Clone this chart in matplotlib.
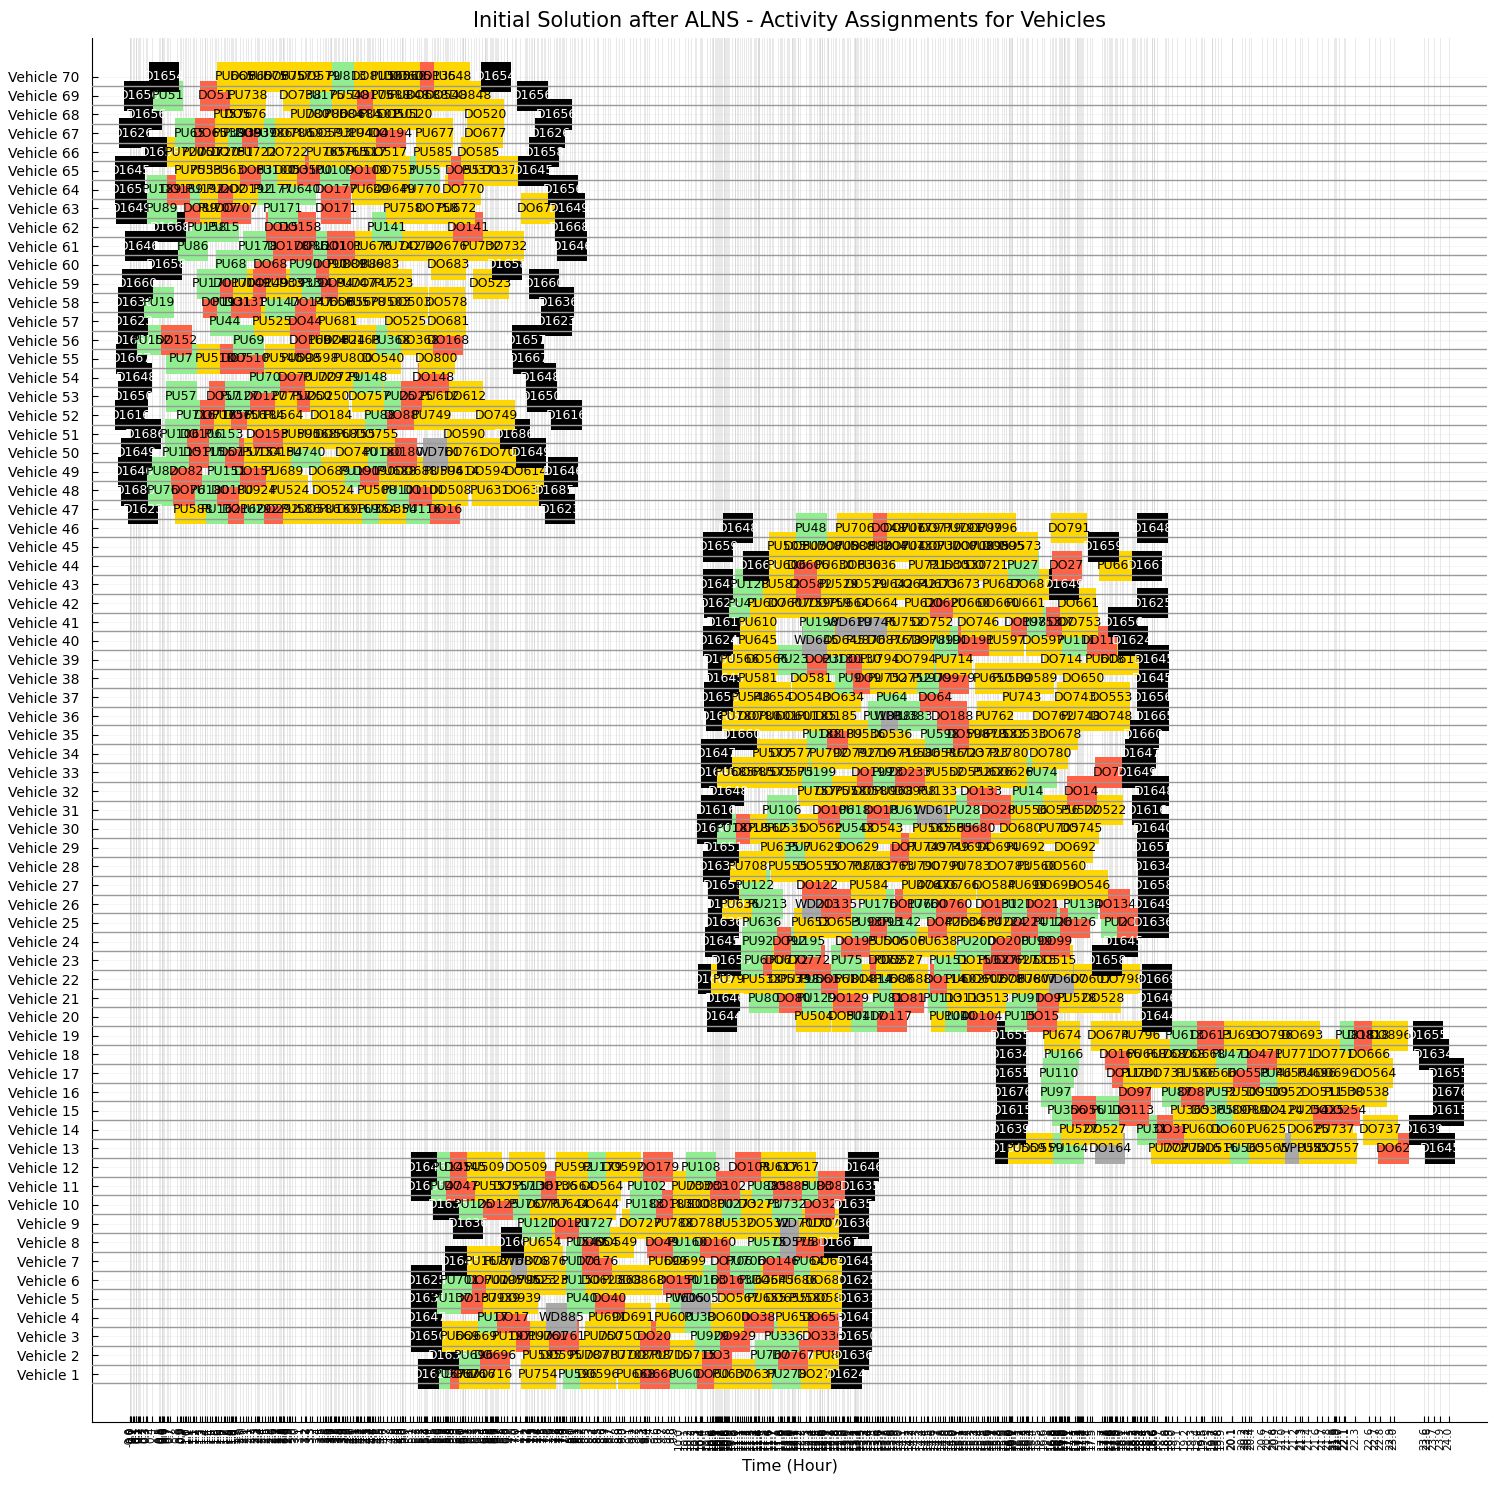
import matplotlib
matplotlib.use("Agg")
import matplotlib.pyplot as plt
from matplotlib.patches import Rectangle

# activity kind -> D depot, P pickup (green), R drop-off (red), Y gold, W waiting (gray)
# each row: (vehicle, label, time in hours, kind)
block_early = [
    (70,"D1654",0.61,"D"),(70,"PU665",1.9,"Y"),(70,"DO665",2.2,"Y"),(70,"PU675",2.5,"Y"),(70,"DO675",2.8,"Y"),
    (70,"PU579",3.1,"Y"),(70,"DO579",3.45,"Y"),(70,"PU813",3.95,"P"),(70,"DO813",4.4,"Y"),(70,"PU560",4.75,"Y"),
    (70,"DO560",5.0,"Y"),(70,"DO605",5.1,"Y"),(70,"DO135",5.55,"R"),(70,"PU648",5.85,"Y"),(70,"D1654",6.65,"D"),
    (69,"D1656",0.16,"D"),(69,"PU51",0.69,"P"),(69,"DO51",1.54,"R"),(69,"PU738",2.15,"Y"),(69,"DO738",3.1,"Y"),
    (69,"PU175",3.54,"P"),(69,"PU548",4.0,"Y"),(69,"DO175",4.4,"R"),(69,"PU688",4.75,"Y"),(69,"PU848",5.1,"Y"),
    (69,"DO688",5.4,"Y"),(69,"DO548",5.75,"Y"),(69,"DO848",6.2,"Y"),(69,"D1656",7.32,"D"),
    (68,"D1656",0.3,"D"),(68,"PU576",1.87,"Y"),(68,"DO576",2.1,"Y"),(68,"PU780",3.27,"Y"),(68,"DO780",3.57,"Y"),
    (68,"PU684",3.88,"Y"),(68,"DO684",4.18,"Y"),(68,"PU501",4.55,"Y"),(68,"DO501",4.9,"Y"),(68,"PU520",5.15,"Y"),
    (68,"DO520",6.47,"Y"),(68,"D1656",7.76,"D"),
    (67,"D1626",0.06,"D"),(67,"PU65",1.08,"P"),(67,"DO65",1.45,"R"),(67,"PU380",1.87,"Y"),(67,"PU939",2.05,"P"),
    (67,"DO939",2.3,"R"),(67,"PU786",2.6,"P"),(67,"DO786",2.95,"Y"),(67,"PU593",3.3,"Y"),(67,"DO593",3.65,"Y"),
    (67,"PU194",4.05,"Y"),(67,"PU404",4.35,"Y"),(67,"DO194",4.75,"R"),(67,"PU677",5.55,"Y"),(67,"DO677",6.46,"Y"),
    (67,"D1626",7.64,"D"),
    (66,"D1658",0.54,"D"),(66,"PU720",1.0,"Y"),(66,"PU751",1.3,"Y"),(66,"DO720",1.6,"Y"),(66,"DO751",1.85,"Y"),
    (66,"PU722",2.3,"Y"),(66,"DO722",2.85,"Y"),(66,"PU765",3.57,"Y"),(66,"DO765",3.94,"Y"),(66,"PU517",4.3,"Y"),
    (66,"DO517",4.67,"Y"),(66,"PU585",5.52,"Y"),(66,"DO585",6.34,"Y"),(66,"D1658",7.53,"D"),
    (65,"D1645",0.0,"D"),(65,"PU753",1.15,"Y"),(65,"PU535",1.45,"Y"),(65,"PU63",1.8,"Y"),(65,"DO63",2.27,"R"),
    (65,"PU100",2.66,"P"),(65,"DO535",3.0,"Y"),(65,"DO100",3.3,"R"),(65,"PU109",3.72,"P"),(65,"DO109",4.3,"R"),
    (65,"DO753",4.8,"Y"),(65,"PU55",5.36,"P"),(65,"DO55",6.05,"R"),(65,"PU371",6.4,"Y"),(65,"DO371",6.8,"Y"),
    (65,"D1645",7.34,"D"),
    (64,"D1656",0.0,"D"),(64,"PU189",0.57,"P"),(64,"DO189",0.95,"R"),(64,"PU192",1.36,"P"),(64,"PU2",1.6,"Y"),
    (64,"DO2",1.87,"R"),(64,"DO192",2.2,"Y"),(64,"PU177",2.6,"P"),(64,"PU640",3.1,"P"),(64,"DO177",3.75,"R"),
    (64,"PU649",4.36,"Y"),(64,"DO649",4.8,"Y"),(64,"PU770",5.3,"Y"),(64,"DO770",6.06,"Y"),(64,"D1656",7.88,"D"),
    (63,"D1649",0.02,"D"),(63,"PU89",0.57,"P"),(63,"DO89",1.27,"R"),(63,"PU707",1.6,"Y"),(63,"DO707",1.93,"R"),
    (63,"PU171",2.78,"P"),(63,"DO171",3.75,"R"),(63,"PU758",4.97,"Y"),(63,"DO758",5.6,"Y"),(63,"PU672",5.95,"Y"),
    (63,"DO672",7.43,"Y"),(63,"D1649",8.0,"D"),
    (62,"D1668",0.73,"D"),(62,"PU158",1.39,"P"),(62,"PU15",1.7,"P"),(62,"DO15",2.75,"R"),(62,"DO158",3.1,"R"),
    (62,"PU141",4.67,"P"),(62,"DO141",6.15,"R"),(62,"D1668",8.0,"D"),
    (61,"D1646",0.17,"D"),(61,"PU86",1.14,"P"),(61,"PU178",2.33,"P"),(61,"DO178",2.88,"R"),(61,"DO86",3.3,"R"),
    (61,"PU101",3.6,"P"),(61,"DO101",3.85,"R"),(61,"PU676",4.42,"Y"),(61,"PU742",4.95,"Y"),(61,"DO742",5.3,"Y"),
    (61,"DO676",5.76,"Y"),(61,"PU732",6.4,"Y"),(61,"DO732",6.85,"Y"),(61,"D1646",8.04,"D"),
    (60,"D1658",0.66,"D"),(60,"PU68",1.84,"P"),(60,"DO68",2.55,"R"),(60,"PU90",3.18,"P"),(60,"DO90",3.65,"R"),
    (60,"PU889",3.95,"Y"),(60,"DO889",4.25,"Y"),(60,"PU683",4.55,"Y"),(60,"DO683",5.79,"Y"),(60,"D1658",6.86,"D"),
    (59,"D1660",0.13,"D"),(59,"PU170",1.48,"P"),(59,"DO170",1.9,"R"),(59,"PU149",2.2,"Y"),(59,"DO149",2.5,"R"),
    (59,"PU933",2.8,"Y"),(59,"DO933",3.1,"Y"),(59,"PU94",3.4,"P"),(59,"DO94",3.75,"R"),(59,"PU747",4.1,"Y"),
    (59,"DO747",4.4,"Y"),(59,"PU523",4.8,"Y"),(59,"DO523",6.56,"Y"),(59,"D1660",7.53,"D"),
    (58,"D1636",0.05,"D"),(58,"PU19",0.52,"P"),(58,"DO19",1.6,"R"),(58,"PU131",1.85,"P"),(58,"DO131",2.1,"R"),
    (58,"PU147",2.72,"P"),(58,"DO147",3.3,"R"),(58,"PU656",3.7,"Y"),(58,"DO656",4.0,"Y"),(58,"PU578",4.3,"Y"),
    (58,"PU503",4.75,"Y"),(58,"DO503",5.1,"Y"),(58,"DO578",5.76,"Y"),(58,"D1636",7.8,"D"),
    (57,"D1623",0.05,"D"),(57,"PU44",1.72,"P"),(57,"PU525",2.58,"Y"),(57,"DO44",3.18,"R"),(57,"PU681",3.78,"Y"),
    (57,"DO525",5.0,"Y"),(57,"DO681",5.79,"Y"),(57,"D1623",7.76,"D"),
    (56,"D1657",0.05,"D"),(56,"PU152",0.39,"P"),(56,"DO152",0.84,"R"),(56,"PU69",2.15,"P"),(56,"DO169",3.27,"R"),
    (56,"PU624",3.6,"Y"),(56,"DO624",3.9,"Y"),(56,"PU168",4.2,"Y"),(56,"PU368",4.75,"P"),(56,"DO368",5.25,"Y"),
    (56,"DO168",5.79,"R"),(56,"D1657",7.22,"D"),
    (55,"D1667",0.02,"D"),(55,"PU7",0.93,"P"),(55,"PU510",1.54,"Y"),(55,"DO7",1.9,"R"),(55,"DO510",2.15,"R"),
    (55,"PU540",2.77,"Y"),(55,"PU598",3.1,"Y"),(55,"DO598",3.4,"Y"),(55,"PU800",4.06,"Y"),(55,"DO540",4.6,"Y"),
    (55,"DO800",5.58,"Y"),(55,"D1667",7.25,"D"),
    (54,"D1648",0.11,"D"),(54,"PU70",2.45,"P"),(54,"DO70",3.0,"R"),(54,"PU729",3.5,"Y"),(54,"DO729",3.8,"Y"),
    (54,"PU148",4.33,"P"),(54,"DO148",5.52,"R"),(54,"D1648",7.47,"D"),
    (53,"D1650",0.05,"D"),(53,"PU57",0.93,"P"),(53,"DO57",1.7,"R"),(53,"PU127",2.0,"P"),(53,"DO127",2.45,"R"),
    (53,"PU757",2.95,"Y"),(53,"PU250",3.3,"R"),(53,"DO250",3.6,"Y"),(53,"DO757",4.36,"Y"),(53,"PU25",4.9,"P"),
    (53,"DO25",5.21,"R"),(53,"PU612",5.64,"Y"),(53,"DO612",6.09,"Y"),(53,"D1650",7.49,"D"),
    (52,"D1616",-0.01,"D"),(52,"PU716",1.2,"P"),(52,"DO716",1.55,"R"),(52,"PU756",1.85,"Y"),(52,"DO756",2.1,"R"),
    (52,"PU184",2.45,"Y"),(52,"PU564",2.8,"Y"),(52,"DO184",3.66,"Y"),(52,"PU88",4.54,"P"),(52,"DO88",4.94,"R"),
    (52,"PU749",5.49,"Y"),(52,"DO749",6.67,"Y"),(52,"D1616",7.94,"D"),
    (51,"D1686",0.28,"D"),(51,"PU106",0.91,"P"),(51,"DO106",1.3,"R"),(51,"PU153",1.7,"P"),(51,"DO153",2.5,"R"),
    (51,"PU590",3.1,"Y"),(51,"PU568",3.4,"Y"),(51,"DO568",3.75,"Y"),(51,"PU755",4.1,"Y"),(51,"DO755",4.5,"Y"),
    (51,"DO590",6.09,"Y"),(51,"D1686",7.0,"D"),
    (50,"D1649",0.11,"D"),(50,"PU115",0.93,"P"),(50,"DO115",1.35,"R"),(50,"PU157",1.7,"P"),(50,"DO157",2.0,"R"),
    (50,"PU154",2.4,"Y"),(50,"DO154",2.75,"Y"),(50,"PU740",3.2,"P"),(50,"DO740",4.12,"Y"),(50,"PU180",4.6,"P"),
    (50,"DO180",4.95,"R"),(50,"WD761",5.6,"W"),(50,"DO761",6.1,"Y"),(50,"DO70",6.7,"Y"),(50,"D1649",7.3,"D"),
    (49,"D1646",0.05,"D"),(49,"PU82",0.58,"P"),(49,"DO82",1.02,"R"),(49,"PU151",1.75,"P"),(49,"DO151",2.27,"R"),
    (49,"PU689",2.8,"Y"),(49,"DO689",3.63,"Y"),(49,"PU190",4.18,"P"),(49,"DO190",4.45,"R"),(49,"PU688",4.85,"Y"),
    (49,"DO688",5.21,"Y"),(49,"PU594",5.7,"Y"),(49,"PU614",6.0,"Y"),(49,"DO594",6.5,"Y"),(49,"DO614",7.2,"Y"),
    (49,"D1646",7.88,"D"),
    (48,"D1685",0.1,"D"),(48,"PU76",0.6,"P"),(48,"DO76",1.05,"R"),(48,"PU180",1.45,"P"),(48,"DO180",1.85,"R"),
    (48,"PU924",2.3,"Y"),(48,"PU524",2.9,"Y"),(48,"DO524",3.7,"Y"),(48,"PU508",4.5,"Y"),(48,"PU101",4.95,"P"),
    (48,"DO101",5.35,"R"),(48,"DO508",5.82,"Y"),(48,"PU631",6.55,"Y"),(48,"DO631",7.19,"Y"),(48,"D1685",7.72,"D"),
    (47,"D1623",0.23,"D"),(47,"PU588",1.14,"Y"),(47,"PU162",1.65,"P"),(47,"DO162",2.05,"R"),(47,"PU292",2.35,"P"),
    (47,"DO292",2.7,"R"),(47,"PU586",3.1,"Y"),(47,"DO586",3.45,"Y"),(47,"PU169",3.8,"Y"),(47,"DO169",4.15,"Y"),
    (47,"PU354",4.5,"P"),(47,"DO354",4.85,"Y"),(47,"PU116",5.3,"P"),(47,"DO16",5.73,"R"),(47,"D1623",7.82,"D"),
]

block_mid = [
    (46,"D1648",11.07,"D"),(46,"PU48",12.4,"P"),(46,"PU706",13.19,"Y"),(46,"DO48",13.8,"R"),(46,"DO706",14.1,"Y"),
    (46,"PU779",14.4,"Y"),(46,"DO779",14.75,"Y"),(46,"PU791",15.15,"Y"),(46,"DO799",15.5,"Y"),(46,"PU796",15.8,"Y"),
    (46,"DO791",17.09,"Y"),(46,"D1648",18.61,"D"),
    (45,"D1659",10.7,"D"),(45,"PU505",11.95,"Y"),(45,"DO505",12.3,"Y"),(45,"PU708",12.6,"Y"),(45,"DO708",12.9,"Y"),
    (45,"PU588",13.2,"Y"),(45,"DO588",13.5,"Y"),(45,"PU704",13.8,"Y"),(45,"DO704",14.1,"Y"),(45,"PU730",14.4,"Y"),
    (45,"DO730",14.75,"Y"),(45,"PU700",15.05,"Y"),(45,"DO700",15.35,"Y"),(45,"PU895",15.65,"Y"),(45,"DO895",15.9,"Y"),
    (45,"DO573",16.2,"Y"),(45,"D1659",17.72,"D"),
    (44,"D1666",11.43,"D"),(44,"PU606",11.95,"Y"),(44,"DO606",12.35,"R"),(44,"PU630",12.83,"Y"),(44,"DO630",13.3,"Y"),
    (44,"PU636",13.6,"Y"),(44,"PU721",14.53,"Y"),(44,"PU530",14.9,"Y"),(44,"DO530",15.2,"Y"),(44,"DO721",15.6,"Y"),
    (44,"PU27",16.26,"P"),(44,"DO27",17.05,"R"),(44,"PU661",17.96,"Y"),(44,"D1667",18.51,"D"),
    (43,"D1649",10.7,"D"),(43,"PU128",11.28,"P"),(43,"PU582",11.85,"Y"),(43,"DO582",12.4,"R"),(43,"PU529",12.9,"Y"),
    (43,"DO529",13.4,"Y"),(43,"PU642",13.9,"Y"),(43,"DO642",14.3,"Y"),(43,"PU673",14.7,"Y"),(43,"DO673",15.1,"Y"),
    (43,"PU687",15.87,"Y"),(43,"DO687",16.41,"Y"),(43,"D1649",17.0,"D"),
    (42,"D1625",10.72,"D"),(42,"PU41",11.17,"P"),(42,"PU607",11.6,"Y"),(42,"DO607",12.0,"Y"),(42,"PU759",12.4,"Y"),
    (42,"DO759",12.75,"Y"),(42,"PU664",13.1,"Y"),(42,"DO664",13.6,"Y"),(42,"PU620",14.45,"Y"),(42,"DO620",14.83,"R"),
    (42,"PU660",15.3,"Y"),(42,"DO660",15.8,"Y"),(42,"PU661",16.3,"Y"),(42,"DO661",17.26,"Y"),(42,"D1625",18.61,"D"),
    (41,"D1610",10.86,"D"),(41,"PU610",11.42,"Y"),(41,"PU198",12.53,"P"),(41,"WD619",13.1,"W"),(41,"PU746",13.6,"W"),
    (41,"PU752",14.1,"Y"),(41,"DO752",14.6,"Y"),(41,"DO746",15.44,"Y"),(41,"DO198",16.3,"R"),(41,"PU753",16.6,"P"),
    (41,"DO7",16.95,"R"),(41,"DO753",17.29,"Y"),(41,"D1656",18.08,"D"),
    (40,"D1624",10.7,"D"),(40,"PU645",11.43,"Y"),(40,"WD645",12.5,"W"),(40,"DO645",13.0,"Y"),(40,"PU876",13.4,"Y"),
    (40,"DO876",13.8,"Y"),(40,"PU789",14.2,"Y"),(40,"DO789",14.6,"Y"),(40,"PU191",14.9,"P"),(40,"DO191",15.35,"R"),
    (40,"PU597",15.95,"Y"),(40,"DO597",16.63,"Y"),(40,"PU111",17.24,"P"),(40,"DO111",17.69,"R"),(40,"D1624",18.25,"D"),
    (39,"D1645",10.8,"D"),(39,"PU566",11.1,"Y"),(39,"DO566",11.6,"Y"),(39,"PU23",12.07,"P"),(39,"DO23",12.6,"R"),
    (39,"PU130",12.95,"P"),(39,"DO130",13.3,"R"),(39,"PU794",13.65,"Y"),(39,"DO794",14.3,"Y"),(39,"PU714",15.0,"Y"),
    (39,"DO714",16.96,"Y"),(39,"PU618",17.75,"Y"),(39,"DO618",18.05,"Y"),(39,"D1645",18.64,"D"),
    (38,"D1645",10.81,"D"),(38,"PU581",11.43,"Y"),(38,"DO581",12.4,"Y"),(38,"PU9",13.1,"P"),(38,"DO9",13.44,"R"),
    (38,"PU752",13.8,"Y"),(38,"DO752",14.2,"Y"),(38,"PU979",14.6,"P"),(38,"DO979",15.0,"R"),(38,"PU650",15.7,"Y"),
    (38,"PU589",16.05,"Y"),(38,"DO589",16.5,"Y"),(38,"DO650",17.35,"Y"),(38,"D1645",18.61,"D"),
    (37,"D1656",10.72,"D"),(37,"PU548",11.3,"Y"),(37,"PU654",11.7,"Y"),(37,"DO548",12.37,"Y"),(37,"DO634",12.98,"Y"),
    (37,"PU64",13.86,"P"),(37,"DO64",14.65,"R"),(37,"PU743",16.23,"Y"),(37,"DO743",17.2,"Y"),(37,"DO553",17.87,"Y"),
    (37,"D1656",18.61,"D"),
    (36,"D1665",10.75,"D"),(36,"PU780",11.1,"Y"),(36,"DO780",11.45,"Y"),(36,"PU601",11.8,"Y"),(36,"DO601",12.15,"Y"),
    (36,"PU185",12.5,"Y"),(36,"DO185",12.85,"Y"),(36,"PU188",13.7,"P"),(36,"WD188",13.95,"W"),(36,"PU383",14.25,"P"),
    (36,"DO188",14.96,"R"),(36,"PU762",15.74,"Y"),(36,"DO762",16.8,"Y"),(36,"PU748",17.3,"Y"),(36,"DO748",17.87,"Y"),
    (36,"D1665",18.64,"D"),
    (35,"D1660",11.13,"D"),(35,"PU188",12.6,"P"),(35,"DO189",12.95,"R"),(35,"PU536",13.4,"Y"),(35,"DO536",13.85,"Y"),
    (35,"PU598",14.75,"P"),(35,"DO598",15.25,"R"),(35,"PU678",15.6,"Y"),(35,"PU533",15.95,"Y"),(35,"DO533",16.3,"Y"),
    (35,"DO678",16.93,"Y"),(35,"D1660",18.45,"D"),
    (34,"D1647",10.67,"D"),(34,"PU577",11.68,"Y"),(34,"DO577",12.04,"Y"),(34,"PU792",12.71,"Y"),(34,"DO792",13.19,"Y"),
    (34,"PU719",13.6,"Y"),(34,"DO719",14.0,"Y"),(34,"PU586",14.4,"Y"),(34,"DO586",14.8,"Y"),(34,"PU723",15.2,"Y"),
    (34,"DO723",15.6,"Y"),(34,"PU780",16.0,"Y"),(34,"DO780",16.75,"Y"),(34,"D1647",18.39,"D"),
    (33,"D1649",10.67,"D"),(33,"PU685",11.0,"Y"),(33,"DO685",11.35,"Y"),(33,"PU575",11.7,"Y"),(33,"DO575",12.05,"Y"),
    (33,"PU199",12.5,"P"),(33,"DO199",13.5,"R"),(33,"PU23",13.8,"P"),(33,"DO233",14.2,"R"),(33,"PU552",14.83,"Y"),
    (33,"DO552",15.3,"Y"),(33,"PU626",15.7,"Y"),(33,"DO626",16.05,"Y"),(33,"PU74",16.6,"P"),(33,"DO74",17.84,"R"),
    (33,"D1649",18.33,"D"),
    (32,"D1648",10.89,"D"),(32,"PU757",12.5,"Y"),(32,"DO757",12.85,"Y"),(32,"PU580",13.2,"Y"),(32,"DO580",13.55,"Y"),
    (32,"PU968",13.9,"Y"),(32,"DO968",14.3,"Y"),(32,"PU133",14.7,"Y"),(32,"DO133",15.5,"R"),(32,"PU14",16.35,"P"),
    (32,"DO14",17.32,"R"),(32,"D1648",18.64,"D"),
    (31,"D1616",10.67,"D"),(31,"PU106",11.86,"P"),(31,"DO106",12.8,"R"),(31,"PU18",13.2,"P"),(31,"DO18",13.68,"R"),
    (31,"PU61",14.1,"P"),(31,"WD61",14.6,"W"),(31,"PU28",15.2,"P"),(31,"DO28",15.8,"R"),(31,"PU556",16.35,"Y"),
    (31,"DO556",16.9,"Y"),(31,"PU522",17.3,"Y"),(31,"DO522",17.75,"Y"),(31,"D1616",18.51,"D"),
    (30,"D1640",10.6,"D"),(30,"PU18",10.95,"P"),(30,"DO18",11.3,"R"),(30,"PU562",11.6,"Y"),(30,"PU535",11.95,"Y"),
    (30,"DO562",12.59,"Y"),(30,"PU543",13.2,"P"),(30,"DO543",13.7,"Y"),(30,"PU565",14.6,"Y"),(30,"DO565",14.95,"Y"),
    (30,"PU680",15.4,"R"),(30,"DO680",16.2,"Y"),(30,"PU705",16.9,"Y"),(30,"DO745",17.32,"Y"),(30,"D1640",18.63,"D"),
    (29,"D1651",10.8,"D"),(29,"PU635",11.83,"Y"),(29,"PU7",12.2,"P"),(29,"PU629",12.6,"Y"),(29,"DO629",13.25,"Y"),
    (29,"DO7",14.1,"R"),(29,"PU749",14.5,"Y"),(29,"DO749",14.9,"Y"),(29,"PU694",15.3,"Y"),(29,"DO694",15.8,"Y"),
    (29,"PU692",16.3,"Y"),(29,"DO692",17.2,"Y"),(29,"D1651",18.6,"D"),
    (28,"D1634",10.7,"D"),(28,"PU708",11.25,"Y"),(28,"PU555",11.98,"Y"),(28,"DO555",12.53,"Y"),(28,"DO708",13.1,"Y"),
    (28,"PU763",13.5,"Y"),(28,"DO763",13.9,"Y"),(28,"PU790",14.4,"Y"),(28,"DO790",14.8,"Y"),(28,"PU783",15.3,"Y"),
    (28,"DO783",16.0,"Y"),(28,"PU560",16.5,"Y"),(28,"DO560",17.02,"Y"),(28,"D1634",18.63,"D"),
    (27,"D1658",10.8,"D"),(27,"PU122",11.37,"P"),(27,"DO122",12.5,"R"),(27,"PU584",13.44,"Y"),(27,"PU476",14.4,"Y"),
    (27,"DO476",14.7,"Y"),(27,"DO766",15.08,"Y"),(27,"DO584",15.74,"Y"),(27,"PU699",16.35,"Y"),(27,"DO699",16.84,"Y"),
    (27,"DO546",17.47,"Y"),(27,"D1658",18.63,"D"),
    (26,"D1649",10.84,"D"),(26,"PU636",11.1,"Y"),(26,"PU213",11.6,"P"),(26,"WD213",12.5,"W"),(26,"DO135",12.85,"R"),
    (26,"PU176",13.62,"P"),(26,"DO176",14.2,"R"),(26,"PU760",14.5,"P"),(26,"DO760",14.95,"R"),(26,"DO131",15.77,"R"),
    (26,"PU21",16.15,"P"),(26,"DO21",16.6,"R"),(26,"PU134",17.35,"P"),(26,"DO134",17.93,"R"),(26,"D1649",18.63,"D"),
    (25,"D1636",10.8,"D"),(25,"PU636",11.5,"P"),(25,"PU653",12.4,"Y"),(25,"DO653",12.9,"Y"),(25,"PU93",13.41,"P"),
    (25,"DO93",13.75,"R"),(25,"PU142",14.05,"P"),(25,"DO42",14.8,"R"),(25,"PU634",15.2,"Y"),(25,"DO634",15.5,"Y"),
    (25,"PU224",15.95,"Y"),(25,"DO224",16.3,"R"),(25,"PU126",16.8,"P"),(25,"DO126",17.2,"R"),(25,"PU2",17.95,"P"),
    (25,"DO2",18.23,"R"),(25,"D1636",18.63,"D"),
    (24,"D1645",10.74,"D"),(24,"PU92",11.42,"P"),(24,"DO92",12.0,"R"),(24,"PU195",12.3,"P"),(24,"DO195",13.22,"R"),
    (24,"PU506",13.8,"Y"),(24,"DO506",14.1,"Y"),(24,"PU638",14.7,"Y"),(24,"PU200",15.4,"P"),(24,"DO200",15.99,"R"),
    (24,"PU99",16.5,"P"),(24,"DO99",16.84,"R"),(24,"D1645",18.08,"D"),
    (23,"D1658",10.95,"D"),(23,"PU6",11.4,"P"),(23,"DO6",11.8,"R"),(23,"PU772",12.0,"Y"),(23,"DO772",12.37,"R"),
    (23,"PU75",13.04,"P"),(23,"DO75",13.75,"R"),(23,"PU527",13.9,"Y"),(23,"DO527",14.05,"Y"),(23,"PU151",14.9,"P"),
    (23,"DO151",15.44,"Y"),(23,"PU627",15.8,"R"),(23,"DO627",16.15,"R"),(23,"PU515",16.5,"Y"),(23,"DO515",16.84,"Y"),
    (23,"D1658",17.78,"D"),
    (22,"D1669",10.61,"D"),(22,"PU79",10.9,"Y"),(22,"PU533",11.5,"Y"),(22,"DO533",12.0,"Y"),(22,"PU798",12.2,"Y"),
    (22,"PU561",12.55,"P"),(22,"DO561",12.85,"R"),(22,"PU814",13.2,"Y"),(22,"DO814",13.5,"Y"),(22,"PU688",13.9,"P"),
    (22,"DO688",14.2,"Y"),(22,"DO114",14.83,"R"),(22,"PU602",15.2,"Y"),(22,"DO602",15.55,"Y"),(22,"PU678",15.9,"Y"),
    (22,"DO678",16.2,"Y"),(22,"PU607",16.5,"Y"),(22,"WD607",17.0,"W"),(22,"DO607",17.5,"Y"),(22,"DO798",18.05,"Y"),
    (22,"D1669",18.69,"D"),
    (21,"D1646",10.83,"D"),(21,"PU80",11.54,"P"),(21,"DO80",12.08,"R"),(21,"PU129",12.5,"P"),(21,"DO129",13.07,"R"),
    (21,"PU81",13.8,"P"),(21,"DO81",14.17,"R"),(21,"PU113",14.8,"P"),(21,"DO113",15.2,"Y"),(21,"DO513",15.62,"Y"),
    (21,"PU91",16.32,"P"),(21,"DO91",16.78,"R"),(21,"PU528",17.23,"Y"),(21,"DO528",17.72,"Y"),(21,"D1646",18.69,"D"),
    (20,"D1644",10.77,"D"),(20,"PU504",12.44,"Y"),(20,"DO504",13.1,"Y"),(20,"PU117",13.4,"P"),(20,"DO117",13.86,"R"),
    (20,"PU104",14.9,"Y"),(20,"PU10",15.1,"P"),(20,"DO104",15.5,"R"),(20,"PU15",16.2,"P"),(20,"DO15",16.6,"R"),
    (20,"D1644",18.69,"D"),
]

block_late = [
    (19,"D1655",16.03,"D"),(19,"PU674",16.96,"Y"),(19,"DO674",17.81,"Y"),(19,"PU796",18.4,"Y"),(19,"PU613",19.2,"P"),
    (19,"DO613",19.69,"R"),(19,"PU693",20.24,"Y"),(19,"DO796",20.8,"Y"),(19,"DO693",21.33,"Y"),(19,"PU818",22.3,"P"),
    (19,"DO818",22.55,"R"),(19,"DO896",22.94,"Y"),(19,"D1655",23.62,"D"),
    (18,"D1634",16.03,"D"),(18,"PU166",16.99,"P"),(18,"DO166",18.02,"R"),(18,"PU668",18.5,"Y"),(18,"PU768",18.85,"Y"),
    (18,"DO768",19.2,"Y"),(18,"DO668",19.55,"Y"),(18,"PU471",20.05,"P"),(18,"DO471",20.6,"R"),(18,"PU771",21.2,"Y"),
    (18,"DO771",21.91,"Y"),(18,"DO666",22.55,"Y"),(18,"D1634",23.73,"D"),
    (17,"D1655",16.03,"D"),(17,"PU110",16.9,"P"),(17,"DO110",18.15,"R"),(17,"PU731",18.4,"Y"),(17,"DO731",18.84,"Y"),
    (17,"PU566",19.4,"Y"),(17,"DO566",19.75,"Y"),(17,"DO558",20.36,"R"),(17,"PU46",20.85,"P"),(17,"PU564",21.2,"Y"),
    (17,"PU696",21.6,"Y"),(17,"DO696",21.95,"Y"),(17,"DO564",22.67,"Y"),(17,"D1655",24.0,"D"),
    (16,"D1676",16.06,"D"),(16,"PU97",16.85,"P"),(16,"DO97",18.3,"R"),(16,"PU87",19.05,"P"),(16,"DO87",19.4,"R"),
    (16,"PU52",19.85,"P"),(16,"PU509",20.3,"Y"),(16,"DO509",20.7,"Y"),(16,"DO52",21.05,"Y"),(16,"DO511",21.7,"Y"),
    (16,"PU538",22.1,"Y"),(16,"DO538",22.55,"Y"),(16,"D1676",24.0,"D"),
    (15,"D1615",16.06,"D"),(15,"PU356",17.05,"P"),(15,"DO56",17.42,"R"),(15,"PU113",17.85,"P"),(15,"DO113",18.27,"R"),
    (15,"PU365",19.3,"Y"),(15,"DO365",19.7,"Y"),(15,"PU89",20.05,"P"),(15,"DO89",20.4,"Y"),(15,"PU124",20.7,"Y"),
    (15,"DO124",20.97,"Y"),(15,"PU254",21.45,"Y"),(15,"DO25",21.8,"R"),(15,"DO254",22.12,"R"),(15,"D1615",24.0,"D"),
    (14,"D1639",16.03,"D"),(14,"PU527",17.27,"Y"),(14,"DO527",17.75,"Y"),(14,"PU31",18.6,"P"),(14,"DO31",18.96,"R"),
    (14,"PU601",19.51,"Y"),(14,"DO601",20.06,"Y"),(14,"PU625",20.7,"Y"),(14,"DO625",21.45,"Y"),(14,"PU737",21.94,"Y"),
    (14,"DO737",22.76,"Y"),(14,"D1639",23.55,"D"),
    (13,"D1645",16.02,"D"),(13,"PU559",16.3,"Y"),(13,"DO559",16.6,"Y"),(13,"PU164",17.08,"P"),(13,"DO164",17.84,"W"),
    (13,"PU772",18.9,"Y"),(13,"DO772",19.2,"Y"),(13,"PU516",19.5,"Y"),(13,"DO516",19.8,"Y"),(13,"PU565",20.3,"P"),
    (13,"DO565",20.7,"Y"),(13,"WPU58",21.3,"W"),(13,"PU557",21.6,"Y"),(13,"DO557",22.0,"Y"),(13,"DO62",23.0,"R"),
    (13,"D1645",23.85,"D"),
]

block_morning = [
    (12,"D1646",5.39,"D"),(12,"PU145",5.85,"P"),(12,"DO145",6.1,"R"),(12,"PU509",6.45,"Y"),(12,"DO509",7.22,"Y"),
    (12,"PU592",8.07,"Y"),(12,"PU179",8.6,"P"),(12,"DO592",8.98,"Y"),(12,"DO179",9.61,"R"),(12,"PU108",10.39,"P"),
    (12,"DO108",11.28,"R"),(12,"PU617",11.8,"Y"),(12,"DO617",12.16,"Y"),(12,"D1646",13.35,"D"),
    (11,"D1635",5.39,"D"),(11,"PU47",5.75,"P"),(11,"DO47",6.03,"R"),(11,"PU557",6.6,"Y"),(11,"DO557",7.0,"Y"),
    (11,"PU136",7.35,"P"),(11,"DO136",7.75,"R"),(11,"PU564",8.1,"Y"),(11,"DO564",8.6,"Y"),(11,"PU102",9.4,"P"),
    (11,"PU733",10.2,"Y"),(11,"DO733",10.5,"Y"),(11,"DO102",10.83,"R"),(11,"PU885",11.6,"P"),(11,"DO885",11.98,"R"),
    (11,"PU83",12.5,"P"),(11,"DO83",12.8,"R"),(11,"D1635",13.29,"D"),
    (10,"D1635",5.79,"D"),(10,"PU125",6.25,"P"),(10,"DO125",6.7,"R"),(10,"PU767",7.25,"P"),(10,"DO767",7.6,"Y"),
    (10,"PU644",8.0,"Y"),(10,"DO644",8.52,"Y"),(10,"PU183",9.37,"P"),(10,"DO183",9.85,"R"),(10,"PU800",10.2,"Y"),
    (10,"DO800",10.6,"Y"),(10,"PU273",11.05,"P"),(10,"DO273",11.45,"Y"),(10,"PU732",11.95,"P"),(10,"DO32",12.56,"R"),
    (10,"D1635",13.17,"D"),
    (9,"D1636",6.15,"D"),(9,"PU121",7.4,"P"),(9,"DO121",8.0,"R"),(9,"PU727",8.45,"P"),(9,"DO727",9.28,"Y"),
    (9,"PU788",9.9,"Y"),(9,"DO788",10.4,"Y"),(9,"PU532",11.01,"Y"),(9,"DO532",11.62,"Y"),(9,"WD70",12.1,"W"),
    (9,"PU70",12.5,"Y"),(9,"DO70",12.75,"Y"),(9,"D1636",13.17,"D"),
    (8,"D1667",7.02,"D"),(8,"PU654",7.49,"Y"),(8,"PU549",8.3,"P"),(8,"DO654",8.5,"R"),(8,"DO549",8.85,"Y"),
    (8,"DO49",9.68,"R"),(8,"PU160",10.15,"P"),(8,"DO160",10.65,"R"),(8,"PU575",11.6,"P"),(8,"DO575",12.1,"W"),
    (8,"PU80",12.4,"R"),(8,"D1667",12.9,"D"),
    (7,"D1645",6.0,"D"),(7,"PU167",6.45,"Y"),(7,"PU876",6.8,"Y"),(7,"WD876",7.2,"W"),(7,"DO876",7.55,"Y"),
    (7,"PU176",8.2,"P"),(7,"DO176",8.5,"R"),(7,"PU699",9.78,"Y"),(7,"DO699",10.1,"Y"),(7,"DO706",10.95,"R"),
    (7,"PU706",11.2,"P"),(7,"DO146",11.8,"R"),(7,"PU64",12.35,"P"),(7,"DO64",12.7,"Y"),(7,"D1645",13.23,"D"),
    (6,"D1625",5.39,"D"),(6,"PU701",6.0,"P"),(6,"DO701",6.5,"R"),(6,"PU795",6.8,"Y"),(6,"DO795",7.1,"Y"),
    (6,"PU523",7.4,"Y"),(6,"DO523",7.6,"Y"),(6,"PU150",8.2,"P"),(6,"DO623",8.6,"Y"),(6,"PU868",8.95,"Y"),
    (6,"DO868",9.35,"Y"),(6,"DO150",9.98,"R"),(6,"PU163",10.5,"P"),(6,"DO163",10.95,"R"),(6,"PU645",11.45,"P"),
    (6,"DO645",11.7,"Y"),(6,"PU686",12.15,"Y"),(6,"DO686",12.68,"Y"),(6,"D1625",13.23,"D"),
    (5,"D1631",5.39,"D"),(5,"PU137",5.85,"P"),(5,"DO137",6.3,"R"),(5,"PU939",6.75,"Y"),(5,"DO939",7.1,"Y"),
    (5,"PU40",8.22,"P"),(5,"DO40",8.73,"R"),(5,"PU605",10.1,"P"),(5,"WD605",10.3,"W"),(5,"DO567",11.07,"Y"),
    (5,"PU655",11.6,"Y"),(5,"DO655",11.95,"Y"),(5,"PU580",12.35,"Y"),(5,"DO580",12.71,"Y"),(5,"D1631",13.23,"D"),
    (4,"D1647",5.39,"D"),(4,"PU17",6.6,"P"),(4,"DO17",6.95,"R"),(4,"WD885",7.85,"W"),(4,"PU691",8.7,"Y"),
    (4,"DO691",9.15,"Y"),(4,"PU600",9.9,"Y"),(4,"PU38",10.37,"P"),(4,"DO600",10.89,"Y"),(4,"DO38",11.44,"R"),
    (4,"PU658",12.1,"Y"),(4,"DO658",12.62,"R"),(4,"D1647",13.23,"D"),
    (3,"D1650",5.39,"D"),(3,"PU669",6.0,"Y"),(3,"DO669",6.3,"Y"),(3,"PU197",6.95,"Y"),(3,"DO197",7.3,"R"),
    (3,"PU761",7.6,"Y"),(3,"DO761",7.9,"R"),(3,"PU750",8.6,"Y"),(3,"DO750",8.9,"Y"),(3,"DO20",9.55,"R"),
    (3,"PU929",10.55,"P"),(3,"DO929",11.01,"R"),(3,"PU336",11.9,"P"),(3,"DO336",12.62,"R"),(3,"D1650",13.23,"D"),
    (2,"D1636",5.79,"D"),(2,"PU696",6.25,"P"),(2,"DO696",6.64,"R"),(2,"PU595",7.49,"Y"),(2,"DO595",7.85,"Y"),
    (2,"PU787",8.35,"Y"),(2,"DO787",8.65,"Y"),(2,"PU708",9.1,"Y"),(2,"DO708",9.45,"Y"),(2,"PU715",9.85,"Y"),
    (2,"DO715",10.28,"Y"),(2,"DO3",10.68,"R"),(2,"PU767",11.65,"P"),(2,"DO767",12.07,"R"),(2,"PU80",12.75,"Y"),
    (2,"D1636",13.17,"D"),
    (1,"D1624",5.52,"D"),(1,"PU676",5.9,"P"),(1,"DO676",6.1,"R"),(1,"PU716",6.3,"Y"),(1,"DO716",6.58,"Y"),
    (1,"PU754",7.43,"Y"),(1,"PU596",8.15,"P"),(1,"DO596",8.52,"Y"),(1,"PU668",9.2,"Y"),(1,"DO668",9.55,"R"),
    (1,"PU60",10.1,"P"),(1,"DO60",10.59,"R"),(1,"PU637",10.95,"Y"),(1,"DO637",11.4,"Y"),(1,"PU278",11.95,"P"),
    (1,"DO278",12.53,"Y"),(1,"D1624",13.04,"D"),
]

n_vehicles = 70
kind_colors = {"D": "black", "P": "#90EE90", "R": "#FF6347", "Y": "#FFD700", "W": "#A9A9A9"}
kind_widths = {"D": 0.55, "P": 0.55, "R": 0.55, "Y": 0.65, "W": 0.55}

activities = block_morning + block_late + block_mid + block_early
activities.sort(key=lambda a: a[0])  # stable: keeps sequence within a vehicle

fig = plt.figure(figsize=(15, 15), dpi=100)
ax = fig.add_axes([0.0613, 0.052, 0.93, 0.9227])

for veh, label, t, kind in activities:
    w = kind_widths[kind]
    ax.add_patch(Rectangle((t - w / 2, veh - 0.8), w, 1.6, facecolor=kind_colors[kind],
                           edgecolor="none", zorder=2))

# row separators
for v in range(n_vehicles):
    ax.axhline(v + 0.5, color="#9a9a9a", lw=1.0, zorder=3)

for veh, label, t, kind in activities:
    ax.text(t, veh, label, ha="center", va="center", fontsize=9,
            color="white" if kind == "D" else "black", zorder=4)

times = sorted(set(a[2] for a in activities))
ax.set_xticks(times)
ax.set_xticklabels([f"{t:.1f}" for t in times], rotation=90, fontsize=7.5)
ax.set_yticks(range(1, n_vehicles + 1))
ax.set_yticklabels([f"Vehicle {i}" for i in range(1, n_vehicles + 1)], fontsize=10)
ax.tick_params(direction="in", length=4)
ax.tick_params(axis="y", pad=9)
ax.grid(True, axis="x", color="#a8a8a8", alpha=0.35, lw=0.5)
ax.grid(True, axis="y", color="#d0d0d0", alpha=0.3, lw=0.5)
ax.set_axisbelow(True)

ax.set_xlim(-0.7, 24.7)
ax.set_ylim(-1.55, 72.07)
ax.spines["top"].set_visible(False)
ax.spines["right"].set_visible(False)

ax.set_title("Initial Solution after ALNS - Activity Assignments for Vehicles", fontsize=15, pad=8)
ax.set_xlabel("Time (Hour)", fontsize=11.5, labelpad=6)

plt.savefig("out.png", dpi=100)
